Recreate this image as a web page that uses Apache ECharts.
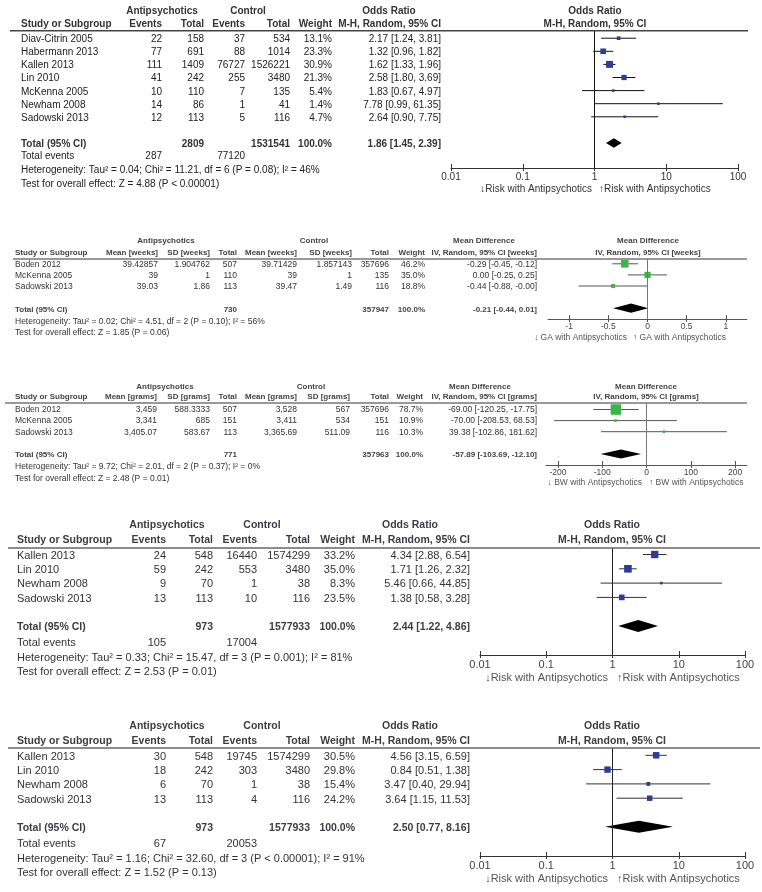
<!DOCTYPE html>
<html><head><meta charset="utf-8">
<script src="https://cdn.jsdelivr.net/npm/echarts@6/dist/echarts.min.js"></script>
<style>html,body{margin:0;padding:0;background:#fff}#c{width:762px;height:892px}</style>
</head><body><div id="c"></div>
<script>
// ---------------- DATA ----------------
// Panel 1: Odds ratio (M-H, Random)
const p1Studies = ['Diav-Citrin 2005','Habermann 2013','Kallen 2013','Lin 2010','McKenna 2005','Newham 2008','Sadowski 2013'];
const p1ApEvents = [22,77,111,41,10,14,12];
const p1ApTotal = [158,691,1409,242,110,86,113];
const p1CtEvents = [37,88,76727,255,7,1,5];
const p1CtTotal = [534,1014,1526221,3480,135,41,116];
const p1Weight = [13.1,23.3,30.9,21.3,5.4,1.4,4.7];
const p1Est = [2.17,1.32,1.62,2.58,1.83,7.78,2.64];
const p1Lo = [1.24,0.96,1.33,1.80,0.67,0.99,0.90];
const p1Hi = [3.81,1.82,1.96,3.69,4.97,61.35,7.75];
const p1Totals = [2809,1531541];
const p1Pooled = [1.86,1.45,2.39];
const p1TotalEvents = [287,77120];
const p1Het = 'Heterogeneity: Tau² = 0.04; Chi² = 11.21, df = 6 (P = 0.08); I² = 46%';
const p1Test = 'Test for overall effect: Z = 4.88 (P < 0.00001)';

// Panel 2: Mean difference, weeks
const p2Studies = ['Boden 2012','McKenna 2005','Sadowski 2013'];
const p2ApMean = [39.42857,39,39.03];
const p2ApSD = [1.904762,1,1.86];
const p2ApTotal = [507,110,113];
const p2CtMean = [39.71429,39,39.47];
const p2CtSD = [1.857143,1,1.49];
const p2CtTotal = [357696,135,116];
const p2Weight = [46.2,35.0,18.8];
const p2Est = [-0.29,0,-0.44];
const p2Lo = [-0.45,-0.25,-0.88];
const p2Hi = [-0.12,0.25,-0];
const p2Totals = [730,357947];
const p2Pooled = [-0.21,-0.44,0.01];
const p2Het = 'Heterogeneity: Tau² = 0.02; Chi² = 4.51, df = 2 (P = 0.10); I² = 56%';
const p2Test = 'Test for overall effect: Z = 1.85 (P = 0.06)';

// Panel 3: Mean difference, grams
const p3Studies = ['Boden 2012','McKenna 2005','Sadowski 2013'];
const p3ApMean = [3459,3341,3405.07];
const p3ApSD = [588.3333,685,583.67];
const p3ApTotal = [507,151,113];
const p3CtMean = [3528,3411,3365.69];
const p3CtSD = [567,534,511.09];
const p3CtTotal = [357696,151,116];
const p3Weight = [78.7,10.9,10.3];
const p3Est = [-69.00,-70.00,39.38];
const p3Lo = [-120.25,-208.53,-102.86];
const p3Hi = [-17.75,68.53,181.62];
const p3Totals = [771,357963];
const p3Pooled = [-57.89,-103.69,-12.10];
const p3Het = 'Heterogeneity: Tau² = 9.72; Chi² = 2.01, df = 2 (P = 0.37); I² = 0%';
const p3Test = 'Test for overall effect: Z = 2.48 (P = 0.01)';

// Panel 4: Odds ratio
const p4Studies = ['Kallen 2013','Lin 2010','Newham 2008','Sadowski 2013'];
const p4ApEvents = [24,59,9,13];
const p4ApTotal = [548,242,70,113];
const p4CtEvents = [16440,553,1,10];
const p4CtTotal = [1574299,3480,38,116];
const p4Weight = [33.2,35.0,8.3,23.5];
const p4Est = [4.34,1.71,5.46,1.38];
const p4Lo = [2.88,1.26,0.66,0.58];
const p4Hi = [6.54,2.32,44.85,3.28];
const p4Totals = [973,1577933];
const p4Pooled = [2.44,1.22,4.86];
const p4TotalEvents = [105,17004];
const p4Het = 'Heterogeneity: Tau² = 0.33; Chi² = 15.47, df = 3 (P = 0.001); I² = 81%';
const p4Test = 'Test for overall effect: Z = 2.53 (P = 0.01)';

// Panel 5: Odds ratio
const p5Studies = ['Kallen 2013','Lin 2010','Newham 2008','Sadowski 2013'];
const p5ApEvents = [30,18,6,13];
const p5ApTotal = [548,242,70,113];
const p5CtEvents = [19745,303,1,4];
const p5CtTotal = [1574299,3480,38,116];
const p5Weight = [30.5,29.8,15.4,24.2];
const p5Est = [4.56,0.84,3.47,3.64];
const p5Lo = [3.15,0.51,0.40,1.15];
const p5Hi = [6.59,1.38,29.94,11.53];
const p5Totals = [973,1577933];
const p5Pooled = [2.50,0.77,8.16];
const p5TotalEvents = [67,20053];
const p5Het = 'Heterogeneity: Tau² = 1.16; Chi² = 32.60, df = 3 (P < 0.00001); I² = 91%';
const p5Test = 'Test for overall effect: Z = 1.52 (P = 0.13)';

// ---------------- HELPERS ----------------
const FONT = '"Liberation Sans", Arial, Helvetica, sans-serif';
const graphics = [];
const grids = [], xAxes = [], yAxes = [], series = [];
function T(x, y, s, size, o) {
  o = o || {};
  graphics.push({type:'text', x:x, y:y, silent:true, z:10,
    style:{text:String(s), font:(o.bold?'bold ':'')+size+'px '+FONT, fill:o.color||'#333',
      textAlign:o.align||'left', textVerticalAlign:'middle'}});
}
function L(x1, y1, x2, y2, color, w) {
  graphics.push({type:'line', silent:true, z:10, shape:{x1:x1,y1:y1,x2:x2,y2:y2}, style:{stroke:color, lineWidth:w}});
}
function f2(v){ const s = Math.abs(v).toFixed(2); return (v < 0 || Object.is(v, -0)) ? '-' + s : s; }
function ciText(e, l, h){ return f2(e) + ' [' + f2(l) + ', ' + f2(h) + ']'; }
function comma(v){ const p = String(v).split('.'); return p[0].replace(/\B(?=(\d{3})+(?!\d))/g, ',') + (p[1] ? '.' + p[1] : ''); }

function addPlot(c, est, lo, hi, w, pooled) {
  const gi = grids.length;
  grids.push({left:c.gLeft, top:c.top, width:c.gWidth, height:c.axisY - c.top});
  const isLog = c.log;
  const base = {gridIndex:gi, position:'bottom', min:c.xMin, max:c.xMax, splitLine:{show:false}};
  if (isLog) { base.type = 'log'; base.logBase = 10; } else { base.type = 'value'; }
  const ax1 = Object.assign({}, base, {
    axisLine:{show:true, onZero:false, lineStyle:{color:c.axisColor, width:1}},
    axisTick:{show:true, inside:false, length:3, lineStyle:{color:c.axisColor}},
    axisLabel:{show:true, margin:c.labMargin, fontSize:c.fs, fontFamily:FONT, color:c.labColor}
  });
  const ax2 = Object.assign({}, base, {
    axisLine:{show:false, onZero:false},
    axisTick:{show:true, inside:true, length:4, lineStyle:{color:c.axisColor}},
    axisLabel:{show:false}
  });
  if (!isLog) {
    ax1.axisTick.customValues = c.ticks; ax1.axisLabel.customValues = c.ticks;
    ax2.axisTick.customValues = c.ticks;
  }
  xAxes.push(ax1, ax2);
  const xi = xAxes.length - 2;
  yAxes.push({gridIndex:gi, type:'value', inverse:true, show:false,
    min:(c.top - c.base)/c.step, max:(c.axisY - c.base)/c.step});
  const yi = yAxes.length - 1;
  const data = est.map((e, i) => [e, i, lo[i], hi[i], w[i]]);
  series.push({type:'custom', xAxisIndex:xi, yAxisIndex:yi, data:data, encode:{x:0, y:1}, silent:true,
    renderItem:function(params, api){
      const row = api.value(1);
      const pe = api.coord([api.value(0), row]);
      const pl = api.coord([api.value(2), row]);
      const ph = api.coord([api.value(3), row]);
      const s = Math.max(2.6, c.sq * Math.pow(api.value(4), 0.75));
      return {type:'group', children:[
        {type:'line', shape:{x1:pl[0], y1:pl[1], x2:ph[0], y2:ph[1]}, style:{stroke:c.ciColor, lineWidth:1}},
        {type:'rect', shape:{x:pe[0]-s/2, y:pe[1]-s/2, width:s, height:s}, style:{fill:c.sqColor}}
      ]};
    },
    markLine:{silent:true, symbol:'none', label:{show:false}, animation:false,
      lineStyle:{color:c.nullColor, width:1, type:'solid'}, data:[{xAxis:c.nullVal}]}
  });
  series.push({type:'custom', xAxisIndex:xi, yAxisIndex:yi, silent:true,
    data:[[pooled[0], c.totalRow, pooled[1], pooled[2]]], encode:{x:0, y:1},
    renderItem:function(params, api){
      const row = api.value(1);
      const pe = api.coord([api.value(0), row]);
      const pl = api.coord([api.value(2), row]);
      const ph = api.coord([api.value(3), row]);
      const h = c.dh;
      return {type:'polygon', shape:{points:[[pl[0],pl[1]],[pe[0],pe[1]-h],[ph[0],ph[1]],[pe[0],pe[1]+h]]}, style:{fill:'#000'}};
    }
  });
}

function buildOR(c, d) {
  const fs = c.fs, bf = c.bfs, hc = c.hc, tc = c.tc;
  const ry = i => c.base + c.step * i + c.tdy;
  T(c.cAp, c.h1, 'Antipsychotics', bf, {bold:1, align:'center', color:hc});
  T(c.cCt, c.h1, 'Control', bf, {bold:1, align:'center', color:hc});
  T(c.cEstHead, c.h1, 'Odds Ratio', bf, {bold:1, align:'center', color:hc});
  T(c.cPlot, c.h1, 'Odds Ratio', bf, {bold:1, align:'center', color:hc});
  T(c.xStudy, c.h2, 'Study or Subgroup', bf, {bold:1, color:hc});
  T(c.xApE, c.h2, 'Events', bf, {bold:1, align:'right', color:hc});
  T(c.xApT, c.h2, 'Total', bf, {bold:1, align:'right', color:hc});
  T(c.xCtE, c.h2, 'Events', bf, {bold:1, align:'right', color:hc});
  T(c.xCtT, c.h2, 'Total', bf, {bold:1, align:'right', color:hc});
  T(c.xW, c.h2, 'Weight', bf, {bold:1, align:'right', color:hc});
  T(c.xEst, c.h2, 'M-H, Random, 95% CI', bf, {bold:1, align:'right', color:hc});
  T(c.cPlot, c.h2, 'M-H, Random, 95% CI', bf, {bold:1, align:'center', color:hc});
  L(c.lx1, c.top, c.lx2, c.top, c.lineColor, 1.5);
  d.studies.forEach((s, i) => {
    const y = ry(i);
    T(c.xStudy, y, s, fs, {color:tc});
    T(c.xApE, y, d.apE[i], fs, {align:'right', color:tc});
    T(c.xApT, y, d.apT[i], fs, {align:'right', color:tc});
    T(c.xCtE, y, d.ctE[i], fs, {align:'right', color:tc});
    T(c.xCtT, y, d.ctT[i], fs, {align:'right', color:tc});
    T(c.xW, y, d.w[i].toFixed(1) + '%', fs, {align:'right', color:tc});
    T(c.xEst, y, ciText(d.est[i], d.lo[i], d.hi[i]), fs, {align:'right', color:tc});
  });
  const yt = ry(c.totalRow);
  T(c.xStudy, yt, 'Total (95% CI)', bf, {bold:1, color:hc});
  T(c.xApT, yt, d.totals[0], bf, {bold:1, align:'right', color:hc});
  T(c.xCtT, yt, d.totals[1], bf, {bold:1, align:'right', color:hc});
  T(c.xW, yt, '100.0%', bf, {bold:1, align:'right', color:hc});
  T(c.xEst, yt, ciText(d.pooled[0], d.pooled[1], d.pooled[2]), bf, {bold:1, align:'right', color:hc});
  T(c.xStudy, c.yEv, 'Total events', fs, {color:tc});
  T(c.xApE, c.yEv, d.events[0], fs, {align:'right', color:tc});
  T(c.xCtE, c.yEv, d.events[1], fs, {align:'right', color:tc});
  T(c.xStudy, c.yHet, d.het, fs, {color:tc});
  T(c.xStudy, c.yTest, d.test, fs, {color:tc});
  T(c.xFootL, c.yFoot, '\u2193Risk with Antipsychotics', fs, {align:'right', color:c.footColor});
  T(c.xFootR, c.yFoot, '\u2191Risk with Antipsychotics', fs, {align:'left', color:c.footColor});
  addPlot(c, d.est, d.lo, d.hi, d.w, d.pooled);
}

function buildMD(c, d) {
  const fs = c.fs, bf = c.bfs, hc = c.hc, tc = c.tc;
  const ry = i => c.base + c.step * i + c.tdy;
  const u = c.unit;
  T(c.cAp, c.h1, 'Antipsychotics', bf, {bold:1, align:'center', color:hc});
  T(c.cCt, c.h1, 'Control', bf, {bold:1, align:'center', color:hc});
  T(c.cEstHead, c.h1, 'Mean Difference', bf, {bold:1, align:'center', color:hc});
  T(c.cPlot, c.h1, 'Mean Difference', bf, {bold:1, align:'center', color:hc});
  T(c.xStudy, c.h2, 'Study or Subgroup', bf, {bold:1, color:hc});
  T(c.xApM, c.h2, 'Mean [' + u + ']', bf, {bold:1, align:'right', color:hc});
  T(c.xApS, c.h2, 'SD [' + u + ']', bf, {bold:1, align:'right', color:hc});
  T(c.xApT, c.h2, 'Total', bf, {bold:1, align:'right', color:hc});
  T(c.xCtM, c.h2, 'Mean [' + u + ']', bf, {bold:1, align:'right', color:hc});
  T(c.xCtS, c.h2, 'SD [' + u + ']', bf, {bold:1, align:'right', color:hc});
  T(c.xCtT, c.h2, 'Total', bf, {bold:1, align:'right', color:hc});
  T(c.xW, c.h2, 'Weight', bf, {bold:1, align:'right', color:hc});
  T(c.xEst, c.h2, 'IV, Random, 95% CI [' + u + ']', bf, {bold:1, align:'right', color:hc});
  T(c.cPlot, c.h2, 'IV, Random, 95% CI [' + u + ']', bf, {bold:1, align:'center', color:hc});
  L(c.lx1, c.top, c.lx2, c.top, c.lineColor, 1.3);
  const fm = c.commas ? comma : String;
  d.studies.forEach((s, i) => {
    const y = ry(i);
    T(c.xStudy, y, s, fs, {color:tc});
    T(c.xApM, y, fm(d.apM[i]), fs, {align:'right', color:tc});
    T(c.xApS, y, fm(d.apS[i]), fs, {align:'right', color:tc});
    T(c.xApT, y, d.apT[i], fs, {align:'right', color:tc});
    T(c.xCtM, y, fm(d.ctM[i]), fs, {align:'right', color:tc});
    T(c.xCtS, y, fm(d.ctS[i]), fs, {align:'right', color:tc});
    T(c.xCtT, y, d.ctT[i], fs, {align:'right', color:tc});
    T(c.xW, y, d.w[i].toFixed(1) + '%', fs, {align:'right', color:tc});
    T(c.xEst, y, ciText(d.est[i], d.lo[i], d.hi[i]), fs, {align:'right', color:tc});
  });
  const yt = ry(c.totalRow) + c.totDy;
  T(c.xStudy, yt, 'Total (95% CI)', bf, {bold:1, color:hc});
  T(c.xApT, yt, d.totals[0], bf, {bold:1, align:'right', color:hc});
  T(c.xCtT, yt, d.totals[1], bf, {bold:1, align:'right', color:hc});
  T(c.xW, yt, '100.0%', bf, {bold:1, align:'right', color:hc});
  T(c.xEst, yt, ciText(d.pooled[0], d.pooled[1], d.pooled[2]), bf, {bold:1, align:'right', color:hc});
  T(c.xStudy, c.yHet, d.het, fs, {color:tc});
  T(c.xStudy, c.yTest, d.test, fs, {color:tc});
  T(c.xFootL, c.yFoot, '\u2193 ' + c.footWord + ' with Antipsychotics', fs, {align:'right', color:c.footColor});
  T(c.xFootR, c.yFoot, '\u2191 ' + c.footWord + ' with Antipsychotics', fs, {align:'left', color:c.footColor});
  addPlot(c, d.est, d.lo, d.hi, d.w, d.pooled);
}

// ---------------- LAYOUT ----------------
const orStyle = {log:true, xMin:0.01, xMax:100, nullVal:1, sqColor:'#2e3b97'};
const mdStyle = {log:false, nullVal:0, sqColor:'#3db54a', ciColor:'#555', nullColor:'#777', axisColor:'#555', labColor:'#444', footColor:'#555', hc:'#444', tc:'#333', lineColor:'#777'};

buildOR(Object.assign({}, orStyle, {
  fs:10, bfs:10, hc:'#333', tc:'#222', footColor:'#333', labColor:'#333', axisColor:'#333', ciColor:'#111', nullColor:'#111', lineColor:'#444',
  h1:11.7, h2:24.3, top:30.7, lx1:10, lx2:748, axisY:168, base:38.2, step:13.1, tdy:1.2, totalRow:8,
  xStudy:21, xApE:162, xApT:204, xCtE:245, xCtT:290, xW:332, xEst:441,
  cAp:162, cCt:248, cEstHead:389, cPlot:595,
  yEv:156.7, yHet:170.5, yTest:184.5, yFoot:189.5, xFootL:592, xFootR:599,
  gLeft:451, gWidth:287, labMargin:4, sq:0.53, dh:4.8
}), {studies:p1Studies, apE:p1ApEvents, apT:p1ApTotal, ctE:p1CtEvents, ctT:p1CtTotal, w:p1Weight,
     est:p1Est, lo:p1Lo, hi:p1Hi, totals:p1Totals, pooled:p1Pooled, events:p1TotalEvents, het:p1Het, test:p1Test});

buildMD(Object.assign({}, mdStyle, {
  fs:8.5, bfs:8, unit:'weeks', commas:false, footWord:'GA',
  h1:241, h2:253, top:259, lx1:13, lx2:747, axisY:319, base:263.8, step:11.1, tdy:0.5, totalRow:4, totDy:0.8,
  xStudy:15, xApM:158, xApS:210, xApT:237, xCtM:297, xCtS:352, xCtT:389, xW:425, xEst:537,
  cAp:166, cCt:314, cEstHead:484, cPlot:648,
  yHet:322, yTest:332.5, yFoot:337.5, xFootL:627, xFootR:633,
  gLeft:548, gWidth:199, xMin:-1.27, xMax:1.27, ticks:[-1,-0.5,0,0.5,1], labMargin:3, sq:0.43, dh:4.6
}), {studies:p2Studies, apM:p2ApMean, apS:p2ApSD, apT:p2ApTotal, ctM:p2CtMean, ctS:p2CtSD, ctT:p2CtTotal, w:p2Weight,
     est:p2Est, lo:p2Lo, hi:p2Hi, totals:p2Totals, pooled:p2Pooled, het:p2Het, test:p2Test});

buildMD(Object.assign({}, mdStyle, {
  fs:8.5, bfs:8, unit:'grams', commas:true, footWord:'BW',
  h1:387, h2:397, top:403, lx1:5, lx2:747, axisY:465, base:409.5, step:11.1, tdy:0.5, totalRow:4, totDy:0.8,
  xStudy:15, xApM:157, xApS:210, xApT:237, xCtM:297, xCtS:350, xCtT:389, xW:423, xEst:537,
  cAp:165, cCt:311, cEstHead:480, cPlot:646,
  yHet:467, yTest:479, yFoot:482.5, xFootL:642, xFootR:649,
  gLeft:546, gWidth:201, xMin:-227, xMax:227, ticks:[-200,-100,0,100,200], labMargin:3, sq:0.40, dh:4.5
}), {studies:p3Studies, apM:p3ApMean, apS:p3ApSD, apT:p3ApTotal, ctM:p3CtMean, ctS:p3CtSD, ctT:p3CtTotal, w:p3Weight,
     est:p3Est, lo:p3Lo, hi:p3Hi, totals:p3Totals, pooled:p3Pooled, het:p3Het, test:p3Test});

const orLower = {fs:11, bfs:10.5, hc:'#3c3c46', tc:'#333', footColor:'#555', labColor:'#444', axisColor:'#333', ciColor:'#333', nullColor:'#222', lineColor:'#666',
  lx1:8, lx2:760, step:14.3, tdy:1.3, totalRow:5,
  xStudy:17, xApE:166, xApT:213, xCtE:257, xCtT:310, xW:355, xEst:470,
  cAp:167, cCt:262, cEstHead:410, cPlot:612, xFootL:608, xFootR:617,
  gLeft:480, gWidth:265, labMargin:4, dh:6};

buildOR(Object.assign({}, orStyle, orLower, {
  h1:525, h2:540, top:548, axisY:655, base:554.5,
  yEv:643, yHet:658, yTest:672, yFoot:677.5, sq:0.53
}), {studies:p4Studies, apE:p4ApEvents, apT:p4ApTotal, ctE:p4CtEvents, ctT:p4CtTotal, w:p4Weight,
     est:p4Est, lo:p4Lo, hi:p4Hi, totals:p4Totals, pooled:p4Pooled, events:p4TotalEvents, het:p4Het, test:p4Test});

buildOR(Object.assign({}, orStyle, orLower, {
  h1:726, h2:741, top:748, axisY:856, base:755.3,
  yEv:844, yHet:859, yTest:873, yFoot:878.5, sq:0.5
}), {studies:p5Studies, apE:p5ApEvents, apT:p5ApTotal, ctE:p5CtEvents, ctT:p5CtTotal, w:p5Weight,
     est:p5Est, lo:p5Lo, hi:p5Hi, totals:p5Totals, pooled:p5Pooled, events:p5TotalEvents, het:p5Het, test:p5Test});

const chart = echarts.init(document.getElementById('c'), null, {renderer:'canvas'});
chart.setOption({
  animation:false,
  backgroundColor:'#fff',
  grid:grids, xAxis:xAxes, yAxis:yAxes, series:series,
  graphic:graphics
});
</script>
</body></html>
